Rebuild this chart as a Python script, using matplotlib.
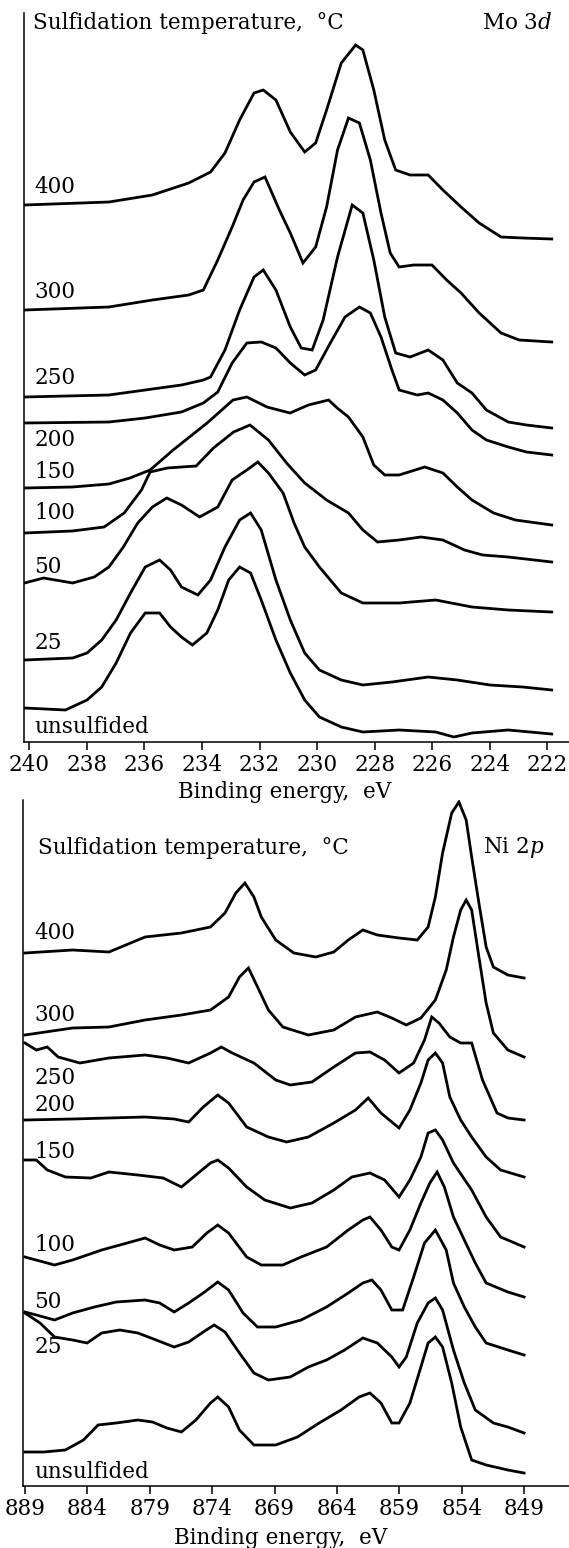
import numpy as np
import matplotlib
matplotlib.use("Agg")
import matplotlib.pyplot as plt

plt.rcParams['font.family'] = ['DejaVu Serif']
plt.rcParams['mathtext.fontset'] = 'dejavuserif'

# ---- Mo 3d spectra (binding energy, eV ; intensity, a.u.) ----
mo_labels = ['400', '300', '250', '200', '150', '100', '50', '25', 'unsulfided']

mo_be_400 = [240.16, 237.23, 235.72, 234.46, 233.7, 233.2, 232.69, 232.19, 231.87, 231.43, 230.93, 230.43, 230.05, 229.67,
             229.16, 228.66, 228.41, 228.03, 227.65, 227.27, 226.77, 226.14, 225.63, 225.0, 224.37, 223.61, 222.86, 221.85]
mo_i_400 = [537, 540, 547, 559, 570, 589, 622, 649, 652, 642, 610, 590, 599, 632,
            679, 697, 692, 652, 602, 572, 567, 567, 552, 535, 519, 505, 504, 503]

mo_be_300 = [240.16, 237.23, 235.72, 234.46, 233.95, 233.45, 232.95, 232.57, 232.19, 231.81, 231.31, 230.93, 230.49, 230.05,
             229.67, 229.29, 228.91, 228.53, 228.15, 227.78, 227.46, 227.15, 226.64, 226.01, 225.5, 225.0, 224.37, 223.61, 222.98, 221.85]
mo_i_300 = [432, 435, 442, 447, 452, 482, 515, 542, 560, 565, 532, 509, 479, 495,
            535, 592, 624, 619, 582, 529, 489, 475, 477, 477, 462, 449, 429, 409, 402, 400]

mo_be_250 = [240.16, 237.23, 235.97, 234.71, 233.95, 233.7, 233.2, 232.69, 232.19, 231.87, 231.43, 230.93, 230.55, 230.17,
             229.79, 229.29, 228.78, 228.41, 228.03, 227.65, 227.27, 226.77, 226.14, 225.63, 225.13, 224.62, 224.12, 223.36, 222.73, 221.85]
mo_i_250 = [345, 347, 352, 357, 362, 365, 392, 432, 465, 472, 452, 415, 394, 392,
            422, 485, 537, 529, 482, 425, 389, 385, 392, 382, 359, 349, 332, 320, 317, 314]

mo_be_200 = [240.16, 237.23, 235.97, 234.71, 233.95, 233.45, 232.95, 232.44, 231.94, 231.43, 230.93, 230.43, 230.05, 229.54,
             229.03, 228.53, 228.15, 227.78, 227.4, 227.15, 226.52, 226.14, 225.63, 225.13, 224.62, 224.12, 223.36, 222.73, 221.85]
mo_i_200 = [319, 320, 324, 330, 339, 350, 379, 399, 400, 394, 379, 367, 372, 399,
            425, 435, 429, 405, 372, 352, 347, 349, 342, 329, 312, 302, 295, 290, 287]

mo_be_150 = [240.16, 238.5, 237.23, 236.5, 235.8, 235.0, 233.82, 232.92, 232.44, 231.74, 230.94, 230.3, 229.6, 229.3,
             228.91, 228.41, 228.03, 227.65, 227.15, 226.26, 225.63, 225.13, 224.62, 223.87, 223.11, 221.85]
mo_i_150 = [254, 255, 258, 264, 272, 292, 319, 342, 345, 335, 329, 337, 342, 334,
            325, 305, 277, 267, 267, 275, 269, 255, 242, 229, 222, 217]

mo_be_100 = [240.16, 238.5, 237.4, 236.7, 236.1, 235.8, 235.2, 234.2, 233.6, 232.9, 232.33, 231.69, 231.06, 230.43,
             229.67, 228.91, 228.41, 227.9, 227.15, 226.39, 225.63, 224.88, 224.25, 223.36, 221.85]
mo_i_100 = [209, 211, 215, 229, 252, 270, 274, 276, 294, 310, 317, 302, 279, 259,
            242, 229, 212, 200, 202, 205, 202, 192, 187, 185, 180]

mo_be_50 = [240.16, 239.5, 238.49, 237.74, 237.23, 236.73, 236.23, 235.72, 235.22, 234.71, 234.08, 233.45, 232.95, 232.44,
            232.06, 231.69, 231.18, 230.8, 230.43, 229.92, 229.16, 228.41, 227.15, 225.88, 224.62, 223.36, 221.85]
mo_i_50 = [159, 164, 159, 165, 175, 195, 219, 235, 244, 237, 225, 235, 262, 272,
           280, 269, 249, 219, 195, 175, 149, 139, 139, 142, 135, 132, 130]

mo_be_25 = [240.16, 238.49, 237.99, 237.48, 236.98, 236.48, 235.97, 235.47, 235.09, 234.71, 234.14, 233.7, 233.2, 232.69,
            232.31, 231.94, 231.43, 230.93, 230.43, 229.92, 229.16, 228.41, 227.4, 226.14, 225.13, 224.0, 222.86, 221.85]
mo_i_25 = [82, 84, 89, 102, 122, 149, 175, 182, 172, 155, 147, 162, 195, 222,
           229, 212, 162, 122, 89, 72, 62, 57, 60, 65, 62, 57, 55, 52]

mo_be_un = [240.16, 238.74, 237.99, 237.48, 236.98, 236.48, 235.97, 235.47, 235.09, 234.71, 234.33, 233.83, 233.45, 233.07,
            232.69, 232.31, 231.94, 231.43, 230.93, 230.43, 229.92, 229.16, 228.41, 227.15, 225.88, 225.25, 224.62, 223.36, 221.85]
mo_i_un = [34, 32, 42, 55, 79, 109, 129, 129, 115, 105, 97, 109, 132, 162,
           175, 169, 142, 102, 69, 42, 25, 15, 10, 12, 10, 5, 9, 12, 8]

mo_label_y = [555, 450, 364, 302, 270, 229, 175, 99, 15]

# ---- Ni 2p spectra ----
ni_labels = ['400', '300', '250', '200', '150', '100', '50', '25', 'unsulfided']

ni_be_400 = [889.0, 885.18, 882.27, 879.37, 876.46, 874.13, 872.97, 872.1, 871.37, 870.65, 870.06, 868.9, 867.45, 865.7, 864.25, 863.09,
             861.92, 860.76, 859.02, 857.56, 856.69, 856.11, 855.53, 854.8, 854.22, 853.64, 853.2, 852.62, 852.04, 851.46, 850.3, 849.0]
ni_i_400 = [533, 536, 534, 549, 553, 559, 573, 593, 603, 589, 569, 546, 533, 529, 534, 546,
            556, 551, 548, 546, 559, 589, 633, 673, 684, 666, 629, 583, 539, 519, 511, 508]

ni_be_300 = [889.0, 885.18, 882.27, 879.37, 876.46, 874.13, 872.68, 871.81, 871.09, 870.36, 869.49, 868.33, 866.29, 864.25, 862.51,
             860.76, 859.6, 858.44, 857.27, 856.11, 855.24, 854.66, 854.08, 853.64, 853.2, 852.62, 852.04, 851.46, 850.3, 849.0]
ni_i_300 = [451, 458, 459, 466, 471, 476, 489, 509, 518, 499, 476, 459, 451, 456, 469,
            474, 468, 461, 468, 486, 516, 549, 576, 586, 576, 529, 483, 453, 436, 429]

ni_be_250 = [889.0, 888.09, 887.21, 886.34, 884.6, 882.27, 879.37, 877.62, 875.88, 874.13, 873.26, 872.39, 870.65, 868.9, 867.74, 866.0,
             864.25, 862.51, 861.35, 860.18, 859.02, 857.85, 856.98, 856.4, 855.82, 854.95, 854.08, 853.2, 852.33, 851.17, 850.3, 849.0]
ni_i_250 = [443, 436, 439, 429, 423, 428, 431, 428, 423, 433, 439, 433, 423, 406, 401, 404,
            419, 433, 434, 426, 413, 423, 446, 469, 463, 449, 443, 443, 406, 373, 368, 366]

ni_be_200 = [889.0, 885.18, 882.27, 879.37, 877.04, 875.88, 874.71, 873.55, 872.68, 871.23, 869.49, 868.03, 866.29, 864.25, 862.51,
             861.49, 860.47, 859.02, 858.15, 857.27, 856.69, 856.11, 855.53, 854.95, 854.08, 853.2, 852.04, 850.88, 849.0]
ni_i_200 = [366, 367, 368, 369, 367, 364, 379, 391, 383, 359, 349, 344, 349, 363, 376,
            388, 373, 358, 376, 403, 426, 433, 423, 389, 366, 349, 329, 316, 309]

ni_be_150 = [889.0, 888.09, 887.21, 885.76, 883.72, 882.27, 879.95, 877.92, 876.46, 875.3, 874.13, 873.55, 872.68, 871.23, 869.78, 867.74,
             866.0, 864.25, 862.8, 861.35, 860.18, 859.02, 858.15, 857.27, 856.69, 856.11, 855.53, 854.66, 853.2, 852.04, 850.88, 849.0]
ni_i_150 = [326, 326, 316, 309, 308, 314, 311, 308, 299, 311, 323, 326, 318, 299, 286, 278,
            283, 296, 309, 313, 306, 289, 306, 329, 353, 356, 346, 323, 296, 269, 249, 239]

ni_be_100 = [889.0, 886.63, 885.18, 882.85, 880.81, 879.37, 878.2, 877.04, 875.59, 874.42, 873.55, 872.68, 871.23, 870.06, 868.33, 866.87, 864.83,
             863.09, 861.92, 861.35, 860.47, 859.6, 859.02, 858.15, 857.27, 856.55, 855.97, 855.39, 854.66, 853.79, 852.91, 852.04, 850.3, 849.0]
ni_i_100 = [229, 221, 226, 236, 243, 248, 241, 236, 239, 253, 261, 253, 229, 221, 221, 229, 239,
            256, 266, 269, 256, 239, 236, 256, 283, 303, 314, 299, 269, 246, 223, 203, 194, 189]

ni_be_50 = [889.0, 888.09, 886.63, 885.18, 883.43, 881.69, 879.37, 878.2, 877.04, 875.88, 874.71, 873.55, 872.68, 871.52, 870.36, 868.9, 866.87,
            864.83, 863.09, 861.92, 861.2, 860.47, 859.6, 858.73, 857.85, 856.98, 856.11, 855.24, 854.66, 853.79, 852.91, 852.04, 850.3, 849.0]
ni_i_50 = [174, 171, 166, 173, 179, 184, 186, 183, 174, 183, 193, 204, 196, 173, 159, 159, 166,
           179, 193, 203, 206, 196, 176, 176, 209, 243, 256, 236, 203, 179, 159, 143, 136, 131]

ni_be_25 = [889.0, 887.79, 886.63, 885.18, 884.02, 882.85, 881.4, 879.95, 878.49, 877.04, 875.88, 874.71, 873.84, 872.97, 871.81, 870.65, 869.49, 867.74,
            866.29, 864.83, 863.38, 861.92, 860.76, 859.6, 859.02, 858.44, 857.56, 856.69, 856.11, 855.53, 854.66, 853.79, 852.91, 851.46, 850.3, 849.0]
ni_i_25 = [173, 163, 149, 146, 143, 153, 156, 153, 146, 139, 144, 154, 161, 154, 133, 113, 106, 109,
           119, 126, 136, 148, 143, 129, 119, 129, 163, 183, 188, 176, 136, 103, 76, 63, 59, 53]

ni_be_un = [889.0, 887.5, 885.76, 884.31, 883.14, 881.69, 879.95, 878.78, 877.62, 876.46, 875.3, 874.13, 873.55, 872.68, 871.81, 870.65, 868.9, 867.16,
            865.42, 863.67, 862.22, 861.35, 860.47, 859.6, 859.02, 858.15, 857.27, 856.69, 856.11, 855.53, 854.8, 854.08, 853.2, 852.04, 850.3, 849.0]
ni_i_un = [34, 34, 36, 46, 61, 63, 66, 64, 58, 54, 66, 83, 89, 79, 56, 41, 41, 49,
           63, 76, 89, 93, 83, 63, 63, 83, 119, 143, 149, 139, 103, 59, 26, 21, 16, 13]

ni_label_y = [553, 471, 408, 381, 334, 241, 184, 139, 14]

mo_ticks = [240, 238, 236, 234, 232, 230, 228, 226, 224, 222]
ni_ticks = [889, 884, 879, 874, 869, 864, 859, 854, 849]

mo_be = [mo_be_400, mo_be_300, mo_be_250, mo_be_200, mo_be_150, mo_be_100, mo_be_50, mo_be_25, mo_be_un]
mo_i = [mo_i_400, mo_i_300, mo_i_250, mo_i_200, mo_i_150, mo_i_100, mo_i_50, mo_i_25, mo_i_un]
ni_be = [ni_be_400, ni_be_300, ni_be_250, ni_be_200, ni_be_150, ni_be_100, ni_be_50, ni_be_25, ni_be_un]
ni_i = [ni_i_400, ni_i_300, ni_i_250, ni_i_200, ni_i_150, ni_i_100, ni_i_50, ni_i_25, ni_i_un]

W, H = 569, 1548
fig = plt.figure(figsize=(W / 100, H / 100), dpi=100)

fs = 15.5


def panel(rect, xs, ys, labels, label_y, ticks, xlim, ylim, lab_x, head_x, tail_x, head_y, tag):
    ax = fig.add_axes(rect)
    for x, y in zip(xs, ys):
        ax.plot(x, y, color='black', lw=2.0, solid_joinstyle='miter')
    ax.set_xlim(*xlim)
    ax.set_ylim(*ylim)
    ax.spines['top'].set_visible(False)
    ax.spines['right'].set_visible(False)
    ax.spines['left'].set_linewidth(1.1)
    ax.spines['bottom'].set_linewidth(1.1)
    ax.set_yticks([])
    ax.set_xticks(ticks)
    ax.set_xticklabels([str(t) for t in ticks])
    ax.tick_params(axis='x', direction='out', length=5.5, width=1.1, pad=3, labelsize=fs)
    for lab, ly in zip(labels, label_y):
        ax.text(lab_x, ly, lab, fontsize=fs, ha='left', va='center')
    ax.text(head_x, head_y, 'Sulfidation temperature,  °C', fontsize=fs, ha='left', va='center')
    ax.text(tail_x, head_y, tag, fontsize=fs, ha='right', va='center')
    return ax


# Mo 3d panel
panel([24 / W, 1 - 742 / H, (W - 24) / W, 729 / H], mo_be, mo_i, mo_labels, mo_label_y, mo_ticks,
      (240.18, 221.25), (0, 729), 239.82, 239.87, 221.84, 719, r'Mo 3$d$')
fig.text(285 / W, 1 - 792 / H, 'Binding energy,  eV', fontsize=fs, ha='center', va='center')

# Ni 2p panel
panel([22.7 / W, 1 - 1486 / H, (W - 22.7) / W, 686 / H], ni_be, ni_i, ni_labels, ni_label_y, ni_ticks,
      (889.18, 845.4), (0, 686), 888.23, 887.95, 847.34, 638, r'Ni 2$p$')
fig.text(281 / W, 1 - 1538 / H, 'Binding energy,  eV', fontsize=fs, ha='center', va='center')

fig.savefig('out.png', dpi=100)
